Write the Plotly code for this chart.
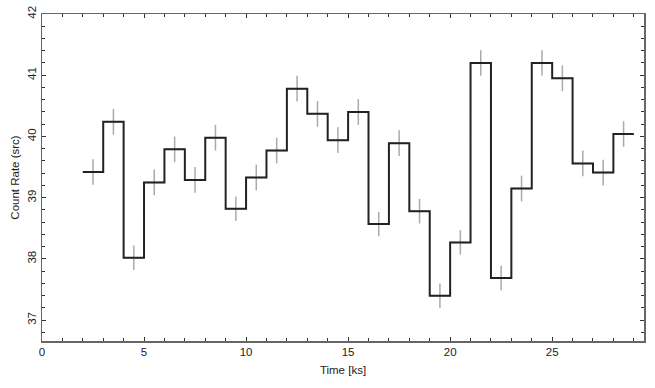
import plotly.graph_objects as go

bin_edges = list(range(2, 30))
rates = [39.42, 40.24, 38.02, 39.25, 39.79, 39.29, 39.98, 38.82, 39.33, 39.77,
         40.78, 40.37, 39.94, 40.40, 38.57, 39.89, 38.78, 37.40, 38.27, 41.20,
         37.69, 39.15, 41.20, 40.95, 39.56, 39.41, 40.04]
errors = [0.21, 0.21, 0.20, 0.21, 0.21, 0.21, 0.21, 0.20, 0.21, 0.21,
          0.21, 0.21, 0.21, 0.21, 0.20, 0.21, 0.20, 0.20, 0.20, 0.21,
          0.20, 0.21, 0.21, 0.21, 0.21, 0.21, 0.21]
centers = [e + 0.5 for e in bin_edges[:-1]]

x_range = [0, 29.5]
y_range = [36.66, 42]

fig = go.Figure()
fig.add_trace(go.Scatter(
    x=centers, y=rates, mode="lines",
    line=dict(color="rgba(0,0,0,0)", width=0),
    error_y=dict(type="data", array=errors, color="#aaaaaa", thickness=1.5, width=0),
    error_x=dict(type="constant", value=0.5, color="#aaaaaa", thickness=1.5, width=0),
    hoverinfo="skip", showlegend=False))
fig.add_trace(go.Scatter(
    x=bin_edges, y=rates + [rates[-1]], mode="lines", line_shape="hv",
    line=dict(color="#222222", width=2), showlegend=False))
# invisible trace on the mirrored (top/right) axes so they render
fig.add_trace(go.Scatter(x=[None], y=[None], xaxis="x2", yaxis="y2",
                         showlegend=False, hoverinfo="skip"))

font = dict(family="Liberation Sans, Arial", size=11.5, color="#222222")
axis_common = dict(
    showgrid=False, zeroline=False, showline=True, linecolor="#666666", linewidth=1.5,
    ticks="inside", ticklen=4, tickwidth=1, tickcolor="#333333",
    tickfont=font, automargin=False,
)
xminor = dict(dtick=1, ticks="inside", ticklen=3, tickcolor="#333333", showgrid=False)
yminor = dict(dtick=0.2, ticks="inside", ticklen=3, tickcolor="#333333", showgrid=False)
fig.update_layout(
    width=655, height=388,
    margin=dict(l=42, r=11, t=14, b=47),
    paper_bgcolor="white", plot_bgcolor="white",
    xaxis=dict(range=x_range, dtick=5, tick0=0, minor=xminor,
               title=dict(text="Time [ks]", font=font, standoff=8),
               **axis_common),
    yaxis=dict(range=y_range, dtick=1, tick0=37, tickangle=-90, minor=yminor,
               title=dict(text="Count Rate (src)", font=font, standoff=4),
               **axis_common),
    xaxis2=dict(range=x_range, dtick=5, tick0=0, minor=xminor, overlaying="x",
                side="top", anchor="y", showticklabels=False, **axis_common),
    yaxis2=dict(range=y_range, dtick=1, tick0=37, minor=yminor, overlaying="y",
                side="right", anchor="x", showticklabels=False, **axis_common),
)
fig.write_html("out.html", config={"displayModeBar": False, "staticPlot": True},
               post_script="document.body.style.margin='0';document.body.style.overflow='hidden';")
